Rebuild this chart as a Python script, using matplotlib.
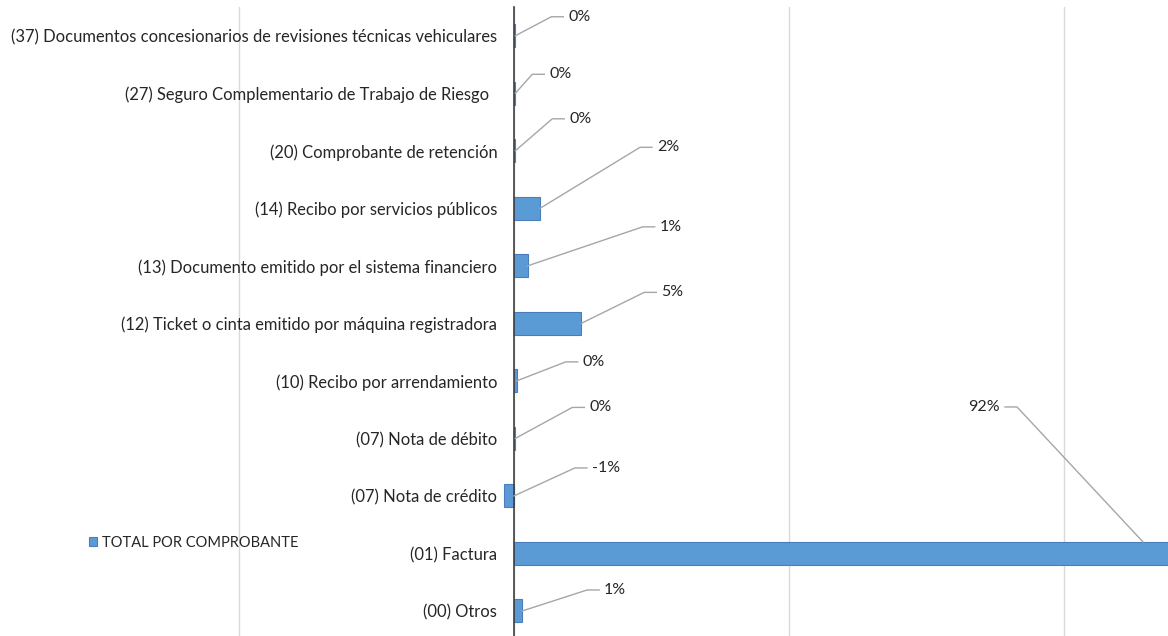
import numpy as np
import matplotlib.pyplot as plt

categorias = ['(00) Otros', '(01) Factura', '(07) Nota de crédito', '(07) Nota de débito',
              '(10) Recibo por arrendamiento',
              '(12) Ticket o cinta emitido por máquina registradora',
              '(13) Documento emitido por el sistema financiero',
              '(14) Recibo por servicios públicos',
              '(20) Comprobante de retención',
              '(27) Seguro Complementario de Trabajo de Riesgo  ',
              '(37) Documentos concesionarios de revisiones técnicas vehiculares']
valores = [0.006, 0.92, -0.007, 0.001, 0.002, 0.049, 0.010, 0.019, 0.001, 0.001, 0.001]
serie = 'TOTAL POR COMPROBANTE'

# where each data label sits, in pixels from the end of its bar (x right, y up)
desplaz = [(82, 21), (-143, 135), (78, 28), (74, 31), (66, 19), (80, 31),
           (132, 39), (117, 61), (54, 32), (34, 19), (53, 19)]

W, H = 1168, 636
plt.rcParams['font.family'] = ['Lato', 'DejaVu Sans']
fig = plt.figure(figsize=(W / 100, H / 100), dpi=100)
ax = fig.add_axes([0, 0, 1, 1 - 7 / H])

y = np.arange(len(categorias))
alto = 0.4
barras = ax.barh(y, valores, height=alto, color='#5B9BD5', edgecolor='#4A7EBB',
                 linewidth=0.8, label=serie, zorder=3)

for s in ['top', 'right', 'bottom']:
    ax.spines[s].set_visible(False)
ax.spines['left'].set_position(('data', 0))
ax.spines['left'].set_color('#404040')
ax.spines['left'].set_linewidth(1.2)
ax.spines['left'].set_zorder(4)

ax.set_xlim(-0.374, 0.476)
ax.set_ylim(-0.435, len(categorias) - 0.5)
ax.set_yticks(y)
ax.set_yticklabels(categorias)
ax.tick_params(axis='y', length=0, pad=12, labelsize=11.9, labelcolor='#262626')
ax.tick_params(axis='x', length=0, labelbottom=False)
ax.set_xticks([-0.2, 0, 0.2, 0.4])
ax.grid(axis='x', color='#D9D9D9', linewidth=1, zorder=0)

inv = ax.transData.inverted()
xmax = ax.get_xlim()[1]
for i, (v, (dx, dy)) in enumerate(zip(valores, desplaz)):
    if v > xmax:
        ax_px, ay_px = ax.transData.transform((xmax, i + alto / 2))
        ax_px -= 25
    else:
        ax_px, ay_px = ax.transData.transform((max(v, 0), i))
    lx, ly = ax_px + dx, ay_px + dy
    sgn = 1 if dx > 0 else -1
    pts = np.array([[ax_px, ay_px], [lx - sgn * 17, ly], [lx - sgn * 5, ly]])
    d = inv.transform(pts)
    ax.plot(d[:, 0], d[:, 1], color='#A6A6A6', linewidth=1, zorder=5, clip_on=False)
    tx, ty = inv.transform((lx, ly))
    ax.text(tx, ty, f'{round(v * 100):.0f}%', fontsize=11.5, color='#262626',
            ha='left' if dx > 0 else 'right', va='center', zorder=6)

fig.legend(handles=[barras], labels=[serie], loc='center left',
           bbox_to_anchor=(82 / W, 93 / H), frameon=False, fontsize=10.5,
           handlelength=0.55, handleheight=0.55, handletextpad=0.3, borderpad=0,
           labelcolor='#262626')

fig.savefig('out.png', dpi=100)
